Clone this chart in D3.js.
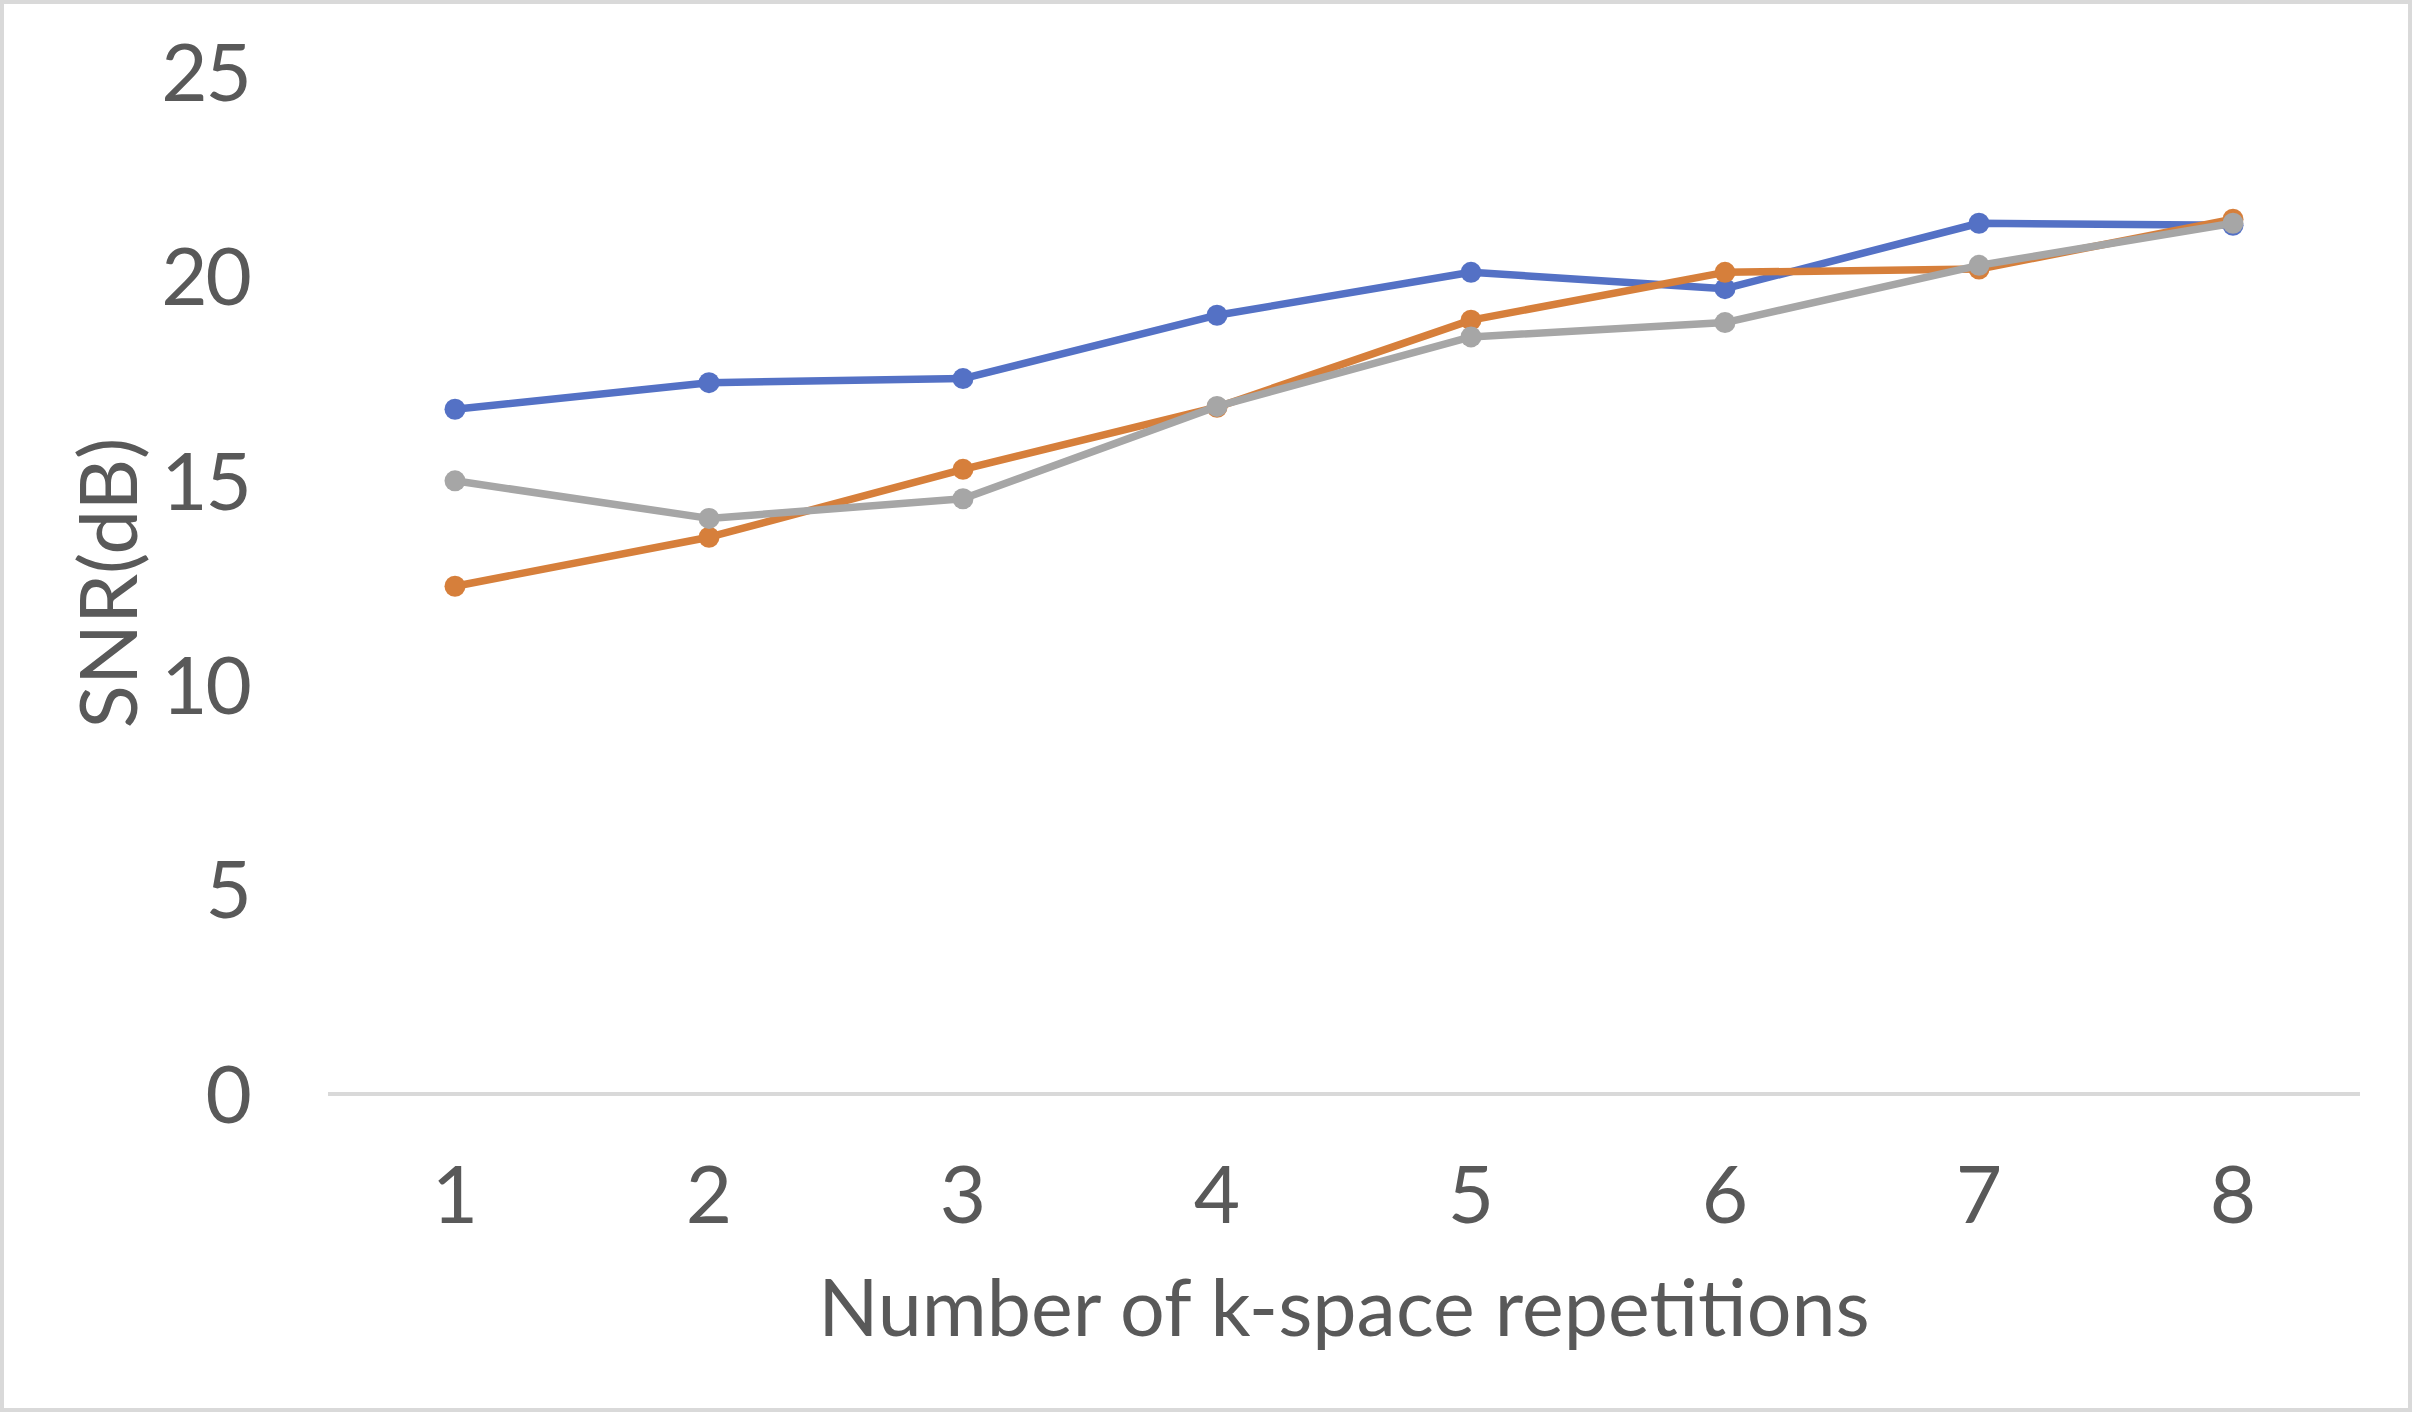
<!DOCTYPE html>
<html><head><meta charset="utf-8">
<script src="https://cdn.jsdelivr.net/npm/d3@7"></script>
<style>html,body{margin:0;padding:0;background:#fff;}svg{display:block;}</style>
</head><body>
<svg id="chart" width="2412" height="1412"></svg>
<script>
const categories = ["1","2","3","4","5","6","7","8"];
const seriesNames = ["Series A","Series B","Series C"];
const seriesA = [16.75, 17.4, 17.5, 19.05, 20.1, 19.7, 21.3, 21.25];
const seriesB = [12.42, 13.62, 15.28, 16.8, 18.93, 20.1, 20.18, 21.4];
const seriesC = [15.0, 14.08, 14.56, 16.82, 18.52, 18.87, 20.27, 21.3];
const yTicks = [0, 5, 10, 15, 20, 25];
const colors = ["#5471C5", "#D67F3B", "#A6A6A6"];
const xTitle = "Number of k-space repetitions";
const yTitle = "SNR(dB)";

(function(){
const W = 2412, H = 1412;
const svg = d3.select("#chart");
const font = "'Gill Sans', Lato, 'Open Sans', sans-serif";
const textColor = "#595959";

svg.append("rect").attr("x",2).attr("y",2).attr("width",W-4).attr("height",H-4)
  .attr("fill","#fff").attr("stroke","#D9D9D9").attr("stroke-width",4);

const pl = 328, pr = 2360, pt = 72, pb = 1094;
const x = d3.scaleBand().domain(categories).range([pl, pr]);
const y = d3.scaleLinear().domain([0, 25]).range([pb, pt]);

// zero axis line
svg.append("line").attr("x1", pl).attr("x2", pr)
  .attr("y1", y(0)).attr("y2", y(0))
  .attr("stroke", "#D9D9D9").attr("stroke-width", 4);

// y tick labels
svg.append("g").selectAll("text").data(yTicks).join("text")
  .attr("x", 250).attr("y", d => y(d)).attr("dy", "0.36em")
  .attr("text-anchor", "end").attr("font-family", font).attr("font-size", 80)
  .attr("letter-spacing", -2)
  .attr("fill", textColor).text(d => d);

// x tick labels
svg.append("g").selectAll("text").data(categories).join("text")
  .attr("x", d => x(d) + x.bandwidth()/2).attr("y", 1223)
  .attr("text-anchor", "middle").attr("font-family", font).attr("font-size", 80)
  .attr("fill", textColor).text(d => d);

// axis titles
svg.append("text").attr("x", (pl+pr)/2).attr("y", 1336)
  .attr("text-anchor", "middle").attr("font-family", font).attr("font-size", 79)
  .attr("fill", textColor).text(xTitle);
svg.append("text").attr("transform", `translate(137,${(pt+pb)/2}) rotate(-90)`)
  .attr("text-anchor", "middle").attr("font-family", font).attr("font-size", 80)
  .attr("fill", textColor).text(yTitle);

const allSeries = [seriesA, seriesB, seriesC];
const line = d3.line().x((d,i) => x(categories[i]) + x.bandwidth()/2).y(d => y(d));
allSeries.forEach((s, k) => {
  const g = svg.append("g");
  g.append("path").datum(s).attr("d", line).attr("fill", "none")
    .attr("stroke", colors[k]).attr("stroke-width", 7.5).attr("stroke-linejoin", "round");
  g.selectAll("circle").data(s).join("circle")
    .attr("cx", (d,i) => x(categories[i]) + x.bandwidth()/2).attr("cy", d => y(d))
    .attr("r", 10.5).attr("fill", colors[k]);
});
})();
</script>
</body></html>
